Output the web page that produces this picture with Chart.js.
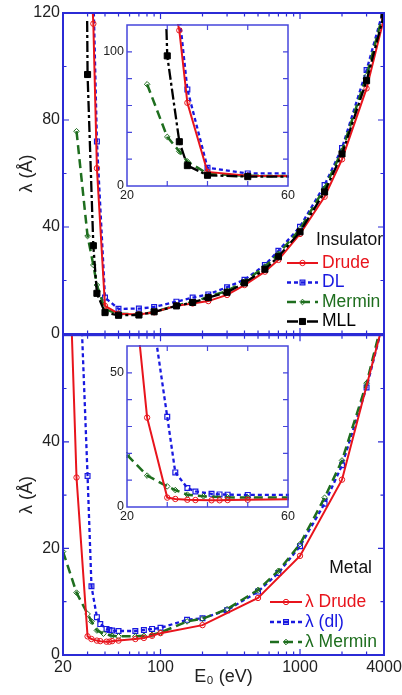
<!DOCTYPE html>
<html>
<head>
<meta charset="utf-8">
<script src="https://cdn.jsdelivr.net/npm/chart.js@4.4.1/dist/chart.umd.min.js"></script>
<style>
	body { margin: 0; background: #fff; }
	#wrap { position: relative; width: 402px; height: 695px; }
	canvas { position: absolute; }
</style>
</head>
<body>
<div id="wrap">
	<canvas id="mainTop" width="402" height="345" style="left:0;top:0"></canvas>
	<canvas id="mainBottom" width="402" height="365" style="left:0;top:330px"></canvas>
	<canvas id="insetTop" width="200" height="192" style="left:95px;top:15px"></canvas>
	<canvas id="insetBottom" width="200" height="192" style="left:95px;top:336px"></canvas>
</div>
<script>
const font = "'Liberation Sans', Arial, sans-serif"

// insulator, E0 (eV) and lambda (A)
const drudeInsE = [32, 33, 35, 40, 50, 70, 90, 130, 170, 220, 300, 400, 560, 700, 1000, 1500, 2000, 3000, 4000]
const drudeInsL = [130, 116, 62, 10.5, 7.6, 7.3, 8.1, 10.6, 11.4, 12.3, 14.6, 18.3, 23.3, 27.7, 37.4, 51.3, 65.3, 91.8, 118]
const dlInsE = [33, 35, 40, 50, 70, 90, 130, 170, 220, 300, 400, 560, 700, 1000, 1500, 2000, 3000, 4000]
const dlInsL = [128, 72, 13.6, 9.4, 9.5, 10.1, 12.1, 13.6, 14.8, 17.5, 20.3, 25.8, 31.1, 40.1, 55.7, 69.5, 98.7, 122]
const merminInsE = [25, 30, 33, 35, 40, 50, 70, 90, 130, 170, 220, 300, 400, 560, 700, 1000, 1500, 2000, 3000, 4000]
const merminInsL = [75.8, 36.6, 25.8, 18.3, 9.2, 7.6, 7.3, 8.2, 10.7, 11.9, 13.9, 16.1, 19.6, 25.2, 30, 39.2, 54.5, 68.5, 96.5, 121]
const mllInsE = [29.8, 30, 33, 35, 40, 50, 70, 90, 130, 170, 220, 300, 400, 560, 700, 1000, 1500, 2000, 3000, 4000]
const mllInsL = [117, 97, 33, 15.2, 8, 7, 7.1, 8.3, 10.5, 11.8, 13.6, 15.6, 19.1, 24.2, 28.9, 38.2, 53.1, 67.3, 94.7, 119.5]

// metal
const drudeMetE = [22, 25, 30, 32, 35, 37, 41, 43, 45, 50, 66, 76, 87, 100, 200, 500, 1000, 2000, 4000]
const drudeMetL = [78, 33.3, 3.5, 3.0, 2.7, 2.6, 2.5, 2.5, 2.6, 2.7, 3.0, 3.2, 3.6, 4.1, 5.6, 10.7, 18.6, 32.9, 63]
const dlMetE = [27, 30, 32, 35, 37, 41, 43, 45, 50, 66, 76, 87, 100, 155, 200, 300, 500, 700, 1000, 1500, 2000, 3000, 4000]
const dlMetL = [64.5, 33.6, 12.9, 7.1, 5.8, 4.9, 4.7, 4.6, 4.5, 4.5, 4.7, 4.9, 5.1, 6.6, 6.9, 8.4, 11.9, 15.4, 20.4, 28.4, 35.6, 50.2, 63]
const merminMetE = [20, 25, 30, 32, 35, 39, 45, 50, 66, 76, 87, 100, 155, 200, 300, 500, 700, 1000, 1500, 2000, 3000, 4000]
const merminMetL = [19.4, 11.7, 7.7, 6.3, 4.6, 4.0, 3.6, 3.5, 3.5, 3.6, 3.8, 4.2, 6.3, 6.8, 8.6, 12.2, 15.8, 20.8, 29.5, 36.5, 51, 64]

// tick labels
const mainXTicks = [20, 100, 1000, 4000]
const insYTicks = [0, 40, 80, 120]
const metYTicks = [0, 20, 40]
const insetXTicks = [20, 60]
const insetTopYTicks = [0, 100]
const insetBottomYTicks = [0, 50]

// tick marks without labels
const mainXMajor = [100, 1000]
const mainXMinor = [30, 40, 50, 60, 70, 80, 90, 200, 300, 400, 500, 600, 700, 800, 900, 2000, 3000]

const RED = "#e8141c", BLUE = "#1818e0", GREEN = "#1e6e1e", BLACK = "#000"
const AXIS = "#2b2bd6"

const styles = {
	drude: { borderColor: RED, borderWidth: 2, pointStyle: "circle", pointRadius: 2.7, pointBorderWidth: 1, pointBackgroundColor: "rgba(0,0,0,0)", order: 1, legendRadius: 2.7 },
	dl: { borderColor: BLUE, borderWidth: 2.3, borderDash: [4, 3], pointStyle: "rect", pointRadius: 3.4, pointBorderWidth: 1.2, pointBackgroundColor: "rgba(0,0,0,0)", order: 3, legendRadius: 3.4 },
	mermin: { borderColor: GREEN, borderWidth: 2.5, borderDash: [9, 5], pointStyle: "rectRot", pointRadius: 2.8, pointBorderWidth: 1, pointBackgroundColor: "rgba(0,0,0,0)", order: 2, legendRadius: 2.8 },
	mll: { borderColor: BLACK, borderWidth: 2.3, borderDash: [11, 3, 3, 3], pointStyle: "rect", pointRadius: c => c.dataIndex === 0 ? 0 : 4.3, pointBorderWidth: 1, pointBackgroundColor: BLACK, order: 0, legendRadius: 4.3 },
}

function series(label, xs, ys, style) {
	return Object.assign({
		label: label,
		data: xs.map((x, i) => ({ x: x, y: ys[i] })),
		pointBorderColor: style.borderColor,
		tension: 0,
		clip: 1,
	}, style)
}

function insulatorSets() {
	return [
		series("Drude", drudeInsE, drudeInsL, styles.drude),
		series("DL", dlInsE, dlInsL, styles.dl),
		series("Mermin", merminInsE, merminInsL, styles.mermin),
		series("MLL", mllInsE, mllInsL, styles.mll),
	]
}

function metalSets() {
	return [
		series("λ Drude", drudeMetE, drudeMetL, styles.drude),
		series("λ (dl)", dlMetE, dlMetL, styles.dl),
		series("λ Mermin", merminMetE, merminMetL, styles.mermin),
	]
}

const frame = {
	id: "frame",
	beforeDatasetsDraw(chart, args, opts) {
		if (!opts.fill) return
		const a = chart.chartArea
		chart.ctx.save()
		chart.ctx.fillStyle = opts.fill
		chart.ctx.fillRect(a.left, a.top, a.right - a.left, a.bottom - a.top)
		chart.ctx.restore()
	},
	afterDatasetsDraw(chart, args, opts) {
		const { ctx, chartArea: a, scales } = chart
		ctx.save()
		ctx.strokeStyle = opts.color
		ctx.lineWidth = opts.tickWidth
		ctx.beginPath()
		const xMark = (v, len) => {
			const p = scales.x.getPixelForValue(v)
			ctx.moveTo(p, a.bottom); ctx.lineTo(p, a.bottom - len)
			ctx.moveTo(p, a.top); ctx.lineTo(p, a.top + len)
		}
		const yMark = (v, len) => {
			const p = scales.y.getPixelForValue(v)
			ctx.moveTo(a.left, p); ctx.lineTo(a.left + len, p)
			ctx.moveTo(a.right, p); ctx.lineTo(a.right - len, p)
		}
		;(opts.xMajor || []).forEach(v => xMark(v, opts.majorLen))
		;(opts.xMinor || []).forEach(v => xMark(v, opts.minorLen))
		;(opts.yMajor || []).forEach(v => yMark(v, opts.majorLen))
		;(opts.yMinor || []).forEach(v => yMark(v, opts.minorLen))
		ctx.stroke()
		ctx.lineWidth = opts.width
		ctx.strokeRect(a.left, a.top, a.right - a.left, a.bottom - a.top)
		ctx.restore()
	},
}

const lineLegend = {
	id: "lineLegend",
	afterDraw(chart, args, opts) {
		if (!opts.x) return
		const ctx = chart.ctx
		ctx.save()
		ctx.font = opts.fontSize + "px " + font
		ctx.textBaseline = "middle"
		ctx.fillStyle = "#111"
		ctx.textAlign = "right"
		ctx.fillText(opts.title, opts.titleX, opts.titleY)
		ctx.textAlign = "left"
		chart.data.datasets.forEach((ds, i) => {
			const y = opts.y + i * opts.dy
			ctx.strokeStyle = ds.borderColor
			ctx.lineWidth = ds.borderWidth
			ctx.setLineDash(ds.borderDash || [])
			ctx.beginPath()
			ctx.moveTo(opts.x, y)
			ctx.lineTo(opts.x + opts.len, y)
			ctx.stroke()
			ctx.setLineDash([])
			ctx.fillStyle = ds.pointBackgroundColor
			ctx.lineWidth = ds.pointBorderWidth
			ctx.beginPath()
			Chart.helpers.drawPoint(ctx, { pointStyle: ds.pointStyle, radius: ds.legendRadius, borderWidth: ds.pointBorderWidth, rotation: 0 }, opts.x + opts.len / 2, y)
			ctx.fillStyle = ds.borderColor
			ctx.fillText(ds.label, opts.x + opts.len + opts.gap, y)
		})
		ctx.restore()
	},
}

function fixedTicks(list) {
	return s => { s.ticks = list.map(v => ({ value: v })) }
}

function makeChart(id, datasets, cfg) {
	return new Chart(document.getElementById(id), {
		type: "line",
		data: { datasets: datasets },
		options: {
			responsive: false,
			animation: false,
			events: [],
			layout: { padding: cfg.padding },
			plugins: {
				legend: { display: false },
				tooltip: { enabled: false },
				frame: cfg.frame,
				lineLegend: cfg.legend || {},
			},
			scales: { x: cfg.x, y: cfg.y },
		},
		plugins: [frame, lineLegend],
	})
}

function yAxis(min, max, ticks, width, size, title) {
	return {
		type: "linear", min: min, max: max,
		afterBuildTicks: fixedTicks(ticks),
		afterFit: s => { s.width = width; s.paddingTop = 0; s.paddingBottom = 0 },
		grid: { display: false, drawTicks: false },
		border: { display: false },
		ticks: { font: { family: font, size: size }, color: "#222", padding: 3, callback: v => String(v) },
		title: title ? { display: true, text: "λ (Å)", font: { family: font, size: 18 }, color: "#222", padding: { top: 16, bottom: 0 } } : { display: false },
	}
}

const mainFrame = (yMajor, yMinor) => ({
	color: AXIS, width: 2, tickWidth: 1.2, majorLen: 6, minorLen: 3.5,
	xMajor: mainXMajor, xMinor: mainXMinor, yMajor: yMajor, yMinor: yMinor,
})

makeChart("mainTop", insulatorSets(), {
	padding: { left: 0, top: 13, right: 18, bottom: 11 },
	x: { type: "logarithmic", min: 20, max: 4000, display: false },
	y: yAxis(0, 120, insYTicks, 63, 16, true),
	frame: mainFrame([40, 80], [20, 60, 100]),
	legend: { title: "Insulator", titleX: 383, titleY: 240, x: 287, y: 263, dy: 19.5, len: 31, gap: 4, fontSize: 17.5 },
})

makeChart("mainBottom", metalSets(), {
	padding: { left: 0, top: 5, right: 18, bottom: 0 },
	x: {
		type: "logarithmic", min: 20, max: 4000,
		afterBuildTicks: fixedTicks(mainXTicks),
		afterFit: s => { s.height = 40; s.paddingLeft = 0; s.paddingRight = 0 },
		grid: { display: false, drawTicks: false },
		border: { display: false },
		ticks: { font: { family: font, size: 16 }, color: "#222", padding: 3, maxRotation: 0, autoSkip: false, callback: v => String(v) },
		title: { display: true, text: "E₀ (eV)", font: { family: font, size: 18 }, color: "#222", padding: { top: 0, bottom: 7 } },
	},
	y: yAxis(0, 60, metYTicks, 63, 16, true),
	frame: mainFrame([20, 40], [10, 30, 50]),
	legend: { title: "Metal", titleX: 372, titleY: 238, x: 270, y: 272, dy: 20, len: 32, gap: 3, fontSize: 17.5 },
})

function insetX() {
	return {
		type: "linear", min: 20, max: 60,
		afterBuildTicks: fixedTicks(insetXTicks),
		afterFit: s => { s.height = 21; s.paddingLeft = 0; s.paddingRight = 0 },
		grid: { display: false, drawTicks: false },
		border: { display: false },
		ticks: { font: { family: font, size: 12.5 }, color: "#222", padding: 2, maxRotation: 0, autoSkip: false },
	}
}

const insetFrame = yMarks => ({
	color: "#4646dc", width: 1.5, tickWidth: 1.2, majorLen: 5, minorLen: 5, fill: "#fff",
	xMajor: [30, 40, 50], yMajor: yMarks,
})

makeChart("insetTop", insulatorSets(), {
	padding: { left: 0, top: 10, right: 7, bottom: 0 },
	x: insetX(),
	y: yAxis(0, 120, insetTopYTicks, 32, 12.5, false),
	frame: insetFrame([20, 40, 60, 80, 100]),
})

makeChart("insetBottom", metalSets(), {
	padding: { left: 0, top: 10, right: 7, bottom: 0 },
	x: insetX(),
	y: yAxis(0, 60, insetBottomYTicks, 32, 12.5, false),
	frame: insetFrame([10, 20, 30, 40, 50]),
})
</script>
</body>
</html>
